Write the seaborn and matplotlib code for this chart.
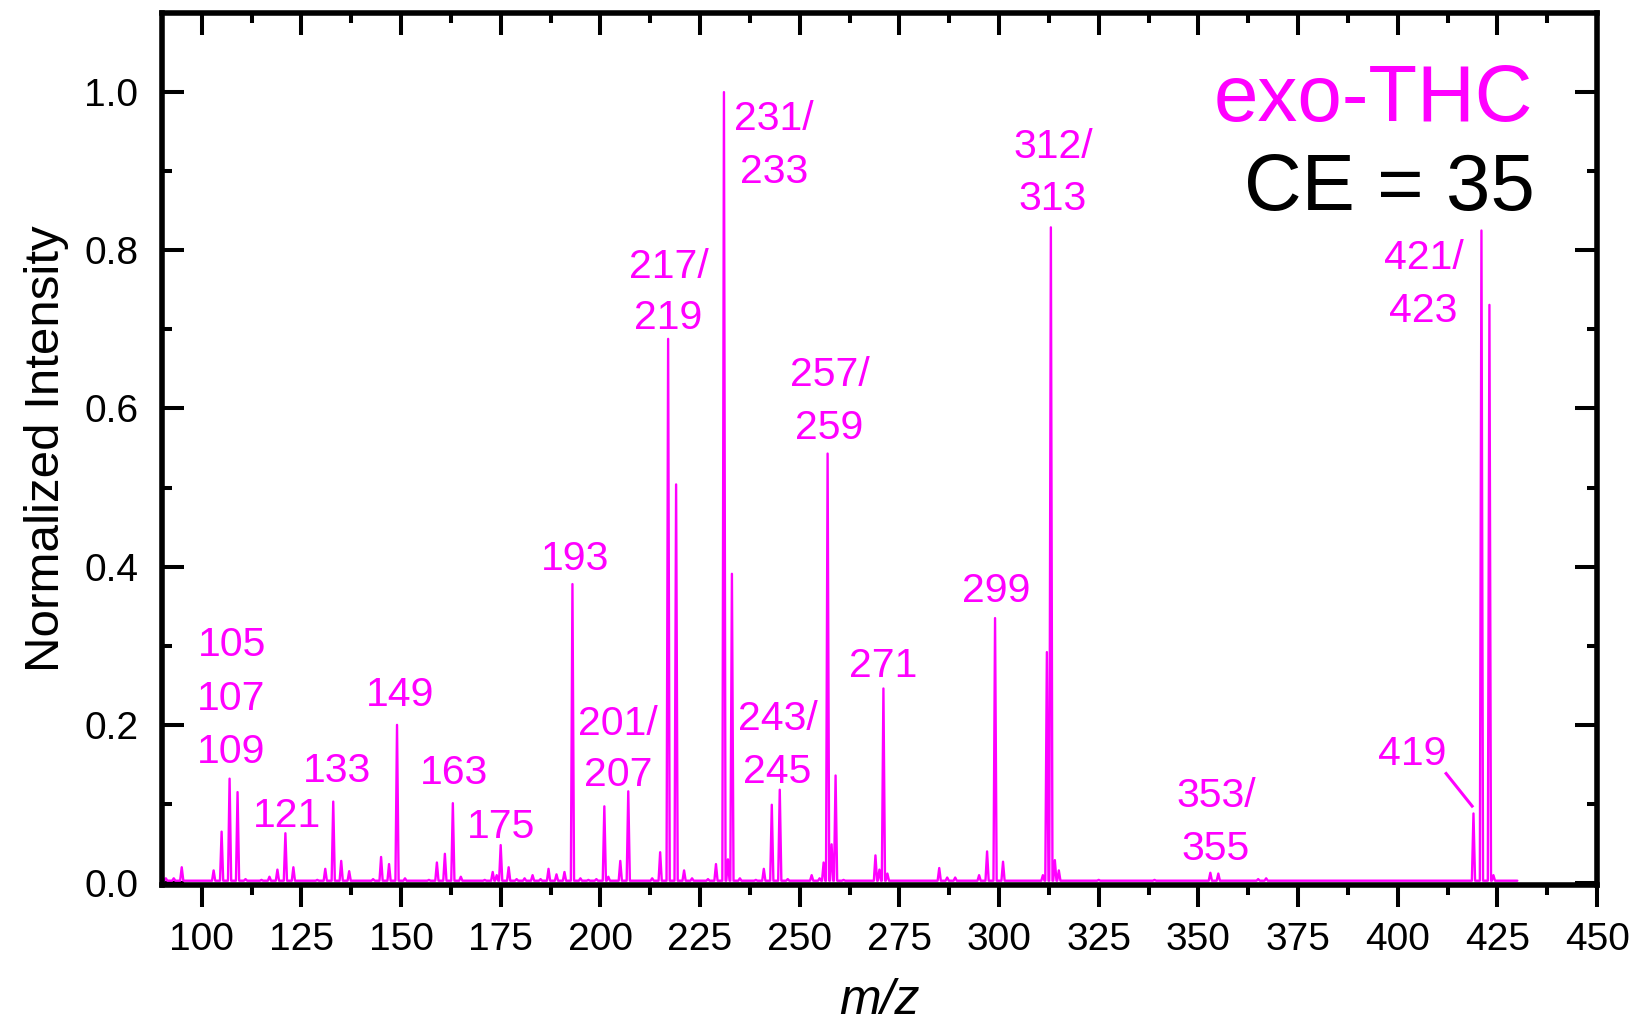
import numpy as np
import pandas as pd
import matplotlib
matplotlib.use("Agg")
import matplotlib.pyplot as plt
from matplotlib.ticker import MultipleLocator, FormatStrFormatter
import seaborn as sns

# ---------------- data ----------------
peak_mz = [91, 93, 95, 103, 105, 107, 109, 111, 115, 117, 119, 121, 123, 128, 129,
           131, 133, 135, 137, 143, 145, 147, 149, 151, 157, 159, 161, 163, 165,
           171, 173, 174, 175, 177, 179, 181, 183, 185, 187, 189, 191, 193, 195,
           197, 199, 201, 202, 205, 207, 213, 215, 217, 219, 221, 223, 227, 229,
           231, 232, 233, 235, 239, 241, 243, 245, 247, 253, 255, 256, 257, 258,
           259, 261, 269, 270, 271, 272, 285, 287, 289, 295, 297, 299, 301, 311,
           312, 313, 314, 315, 325, 339, 353, 355, 365, 367, 395, 397, 404, 405,
           419, 421, 423, 424]
peak_int = [0.006, 0.006, 0.020, 0.016, 0.065, 0.132, 0.115, 0.005, 0.004, 0.008,
            0.017, 0.063, 0.020, 0.003, 0.004, 0.018, 0.103, 0.028, 0.015, 0.005,
            0.033, 0.024, 0.200, 0.006, 0.004, 0.026, 0.037, 0.101, 0.008, 0.004,
            0.014, 0.010, 0.048, 0.020, 0.005, 0.006, 0.010, 0.005, 0.018, 0.011,
            0.014, 0.378, 0.006, 0.004, 0.005, 0.097, 0.008, 0.028, 0.116, 0.006,
            0.039, 0.688, 0.504, 0.016, 0.006, 0.005, 0.024, 1.000, 0.030, 0.391,
            0.006, 0.004, 0.018, 0.099, 0.118, 0.005, 0.010, 0.006, 0.026, 0.543,
            0.049, 0.136, 0.004, 0.035, 0.017, 0.246, 0.012, 0.019, 0.007, 0.007,
            0.010, 0.040, 0.335, 0.027, 0.010, 0.292, 0.829, 0.029, 0.016, 0.004,
            0.004, 0.013, 0.012, 0.005, 0.006, 0.003, 0.003, 0.003, 0.003, 0.088,
            0.825, 0.731, 0.010]
baseline_level = 0.003
scan_start, scan_end = 90.0, 430.0

# peak labels (one entry per text line)
label_texts = ["105", "107", "109", "121", "133", "149", "163", "175", "193",
               "201/", "207", "217/", "219", "231/", "233", "243/", "245",
               "257/", "259", "271", "299", "312/", "313", "353/", "355",
               "419", "421/", "423"]

x_ticks = [100, 125, 150, 175, 200, 225, 250, 275, 300, 325, 350, 375, 400, 425, 450]
y_ticks = [0.0, 0.2, 0.4, 0.6, 0.8, 1.0]

# ---------------- layout (positions of label lines, data units) ----------------
label_pos = [(107.5, 0.2865), (107.5, 0.2190), (107.5, 0.1515), (121.4, 0.0713),
             (133.9, 0.1282), (149.8, 0.2241), (163.3, 0.1249), (175.2, 0.0566),
             (193.6, 0.3962), (204.4, 0.1873), (204.4, 0.1228), (217.1, 0.7654),
             (217.0, 0.7000), (243.5, 0.9523), (243.5, 0.8857), (244.6, 0.1937),
             (244.4, 0.1270), (257.5, 0.6282), (257.3, 0.5608), (270.9, 0.2611),
             (299.3, 0.3551), (313.55, 0.9173), (313.55, 0.8513), (354.4, 0.0966),
             (354.3, 0.0291), (403.6, 0.1494), (406.6, 0.7760), (406.5, 0.7089)]

MAGENTA = "#FF00FF"

# ---------------- build the profile from the peak list ----------------
half_w = 0.4
xs, ys = [scan_start], [baseline_level]
for mz, it in sorted(zip(peak_mz, peak_int)):
    xs += [mz - half_w, mz, mz + half_w]
    ys += [baseline_level, it, baseline_level]
xs.append(scan_end)
ys.append(baseline_level)
spec = pd.DataFrame({"mz": xs, "intensity": ys})

# ---------------- figure ----------------
sns.set_style("ticks")
plt.rcParams["font.family"] = ["Liberation Sans", "DejaVu Sans"]
plt.rcParams["text.color"] = "black"
plt.rcParams["axes.labelcolor"] = "black"
plt.rcParams["xtick.color"] = "black"
plt.rcParams["ytick.color"] = "black"

fig = plt.figure(figsize=(16.36, 10.24), dpi=100)
ax = fig.add_axes([0.0989, 0.1357, 0.8773, 0.8516])

sns.lineplot(data=spec, x="mz", y="intensity", ax=ax, color=MAGENTA,
             linewidth=1.7, estimator=None, sort=False)

ax.set_xlim(90, 450)
ax.set_ylim(-0.0025, 1.1)
ax.set_xticks(x_ticks)
ax.set_yticks(y_ticks)
ax.xaxis.set_minor_locator(MultipleLocator(12.5))
ax.yaxis.set_minor_locator(MultipleLocator(0.1))
ax.yaxis.set_major_formatter(FormatStrFormatter("%.1f"))

for sp in ax.spines.values():
    sp.set_visible(True)
    sp.set_linewidth(4.0)
    sp.set_color("black")

ax.tick_params(axis="x", which="both", bottom=True, top=True, direction="out",
               width=2.9, labelsize=28, pad=11, color="black", labelcolor="black")
ax.tick_params(axis="x", which="major", length=15.5)
ax.tick_params(axis="x", which="minor", length=7.5)
# top ticks point inward
for t in ax.xaxis.get_major_ticks() + ax.xaxis.get_minor_ticks():
    t.tick2line.set_marker(matplotlib.lines.TICKDOWN)
ax.tick_params(axis="y", which="both", left=True, right=True, direction="in",
               width=2.9, labelsize=28, pad=17, color="black", labelcolor="black")
ax.tick_params(axis="y", which="major", length=15.5)
ax.tick_params(axis="y", which="minor", length=7.5)

ax.set_xlabel("m/z", fontsize=36, style="italic", color="black")
ax.set_ylabel("Normalized Intensity", fontsize=35.5, color="black")
ax.xaxis.set_label_coords(0.5, -0.107)
ax.yaxis.set_label_coords(-0.065, 0.5)

for txt, (lx, ly) in zip(label_texts, label_pos):
    ax.text(lx, ly, txt, color=MAGENTA, fontsize=29.5, ha="center", va="baseline")

# leader line for 419
ax.plot([411.9, 418.9], [0.140, 0.0958], color=MAGENTA, linewidth=2.2,
        solid_capstyle="butt")

ax.text(434, 0.9637, "exo-THC", color=MAGENTA, fontsize=57.5, ha="right", va="baseline")
ax.text(434.3, 0.8513, "CE = 35", color="black", fontsize=57.5, ha="right", va="baseline")

fig.savefig("out.png", dpi=100)
